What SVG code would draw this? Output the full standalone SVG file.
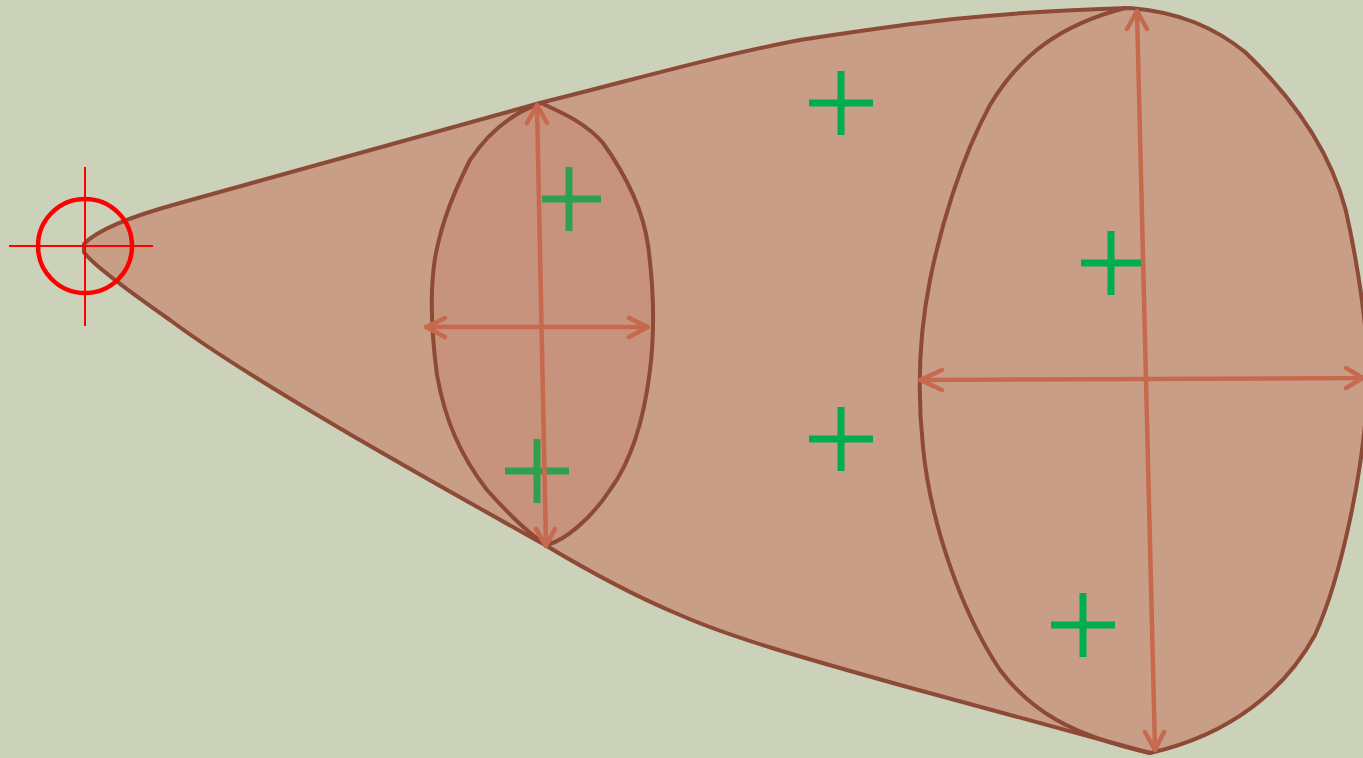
<svg xmlns="http://www.w3.org/2000/svg" width="1363" height="758" viewBox="0 0 1363 758">
<style>
.outline{stroke:#8D4A37;stroke-width:4;stroke-linejoin:round;stroke-linecap:round}
.arrow{fill:none;stroke:#C6694F;stroke-width:4.5;stroke-linecap:round;stroke-linejoin:round}
.plus{fill:none;stroke:#00AD4F;stroke-width:7}
.plus2{fill:none;stroke:#2F9F50;stroke-width:7}
.red{fill:none;stroke:#FF0000}
</style>
<rect width="1363" height="758" fill="#CCD2BA"/>
<g id="cone">
<path class="outline" fill="#C89F86" d="M 84,244 C 95,232 125,218 180,203 L 540,103 C 640,78 720,55 800,40 C 900,25 980,12 1130,8 C 1180,12 1215,28 1245,52 C 1295,100 1338,160 1350,230 C 1362,290 1368,340 1368,380 C 1365,470 1340,580 1315,635 C 1285,690 1230,735 1150,753 L 900,685 C 800,657 730,637 680,615 C 620,590 570,560 545,545 C 420,475 250,380 170,320 C 120,285 90,262 84,252 Z"/>
</g>
<g id="big-section">
<path class="outline" fill="none" d="M 1125,8 C 1060,25 1020,55 990,105 C 960,160 940,230 930,280 C 918,340 918,400 923,447 C 930,520 960,610 1000,670 C 1030,710 1070,735 1150,753"/>
</g>
<g id="small-section">
<path class="outline" fill="#C8937C" d="M 541,103 C 560,112 585,122 603,143 C 628,178 643,210 648,245 C 654,290 655,330 650,370 C 644,420 632,460 610,490 C 590,520 565,540 547,545 C 530,535 505,510 487,490 C 460,455 445,420 437,375 C 431,330 430,290 435,258 C 442,220 455,190 470,160 C 490,130 515,112 541,103 Z"/>
</g>
<g id="markers">
<path class="plus" d="M809,103H873M841,71V135"/>
<path class="plus" d="M809,439H873M841,407V471"/>
<path class="plus" d="M1081,263H1141M1111,231V295"/>
<path class="plus" d="M1051,625H1115M1083,593V657"/>
<path class="plus2" d="M542,199H601M569,167V231"/>
<path class="plus2" d="M505,471H569M537,439V503"/>
</g>
<g id="connectors">
<path class="arrow" d="M537,106 L546,545 M527,123 L537,105 L547,123 M536,529 L546,546 L555,529"/>
<path class="arrow" d="M426,327 L648,327 M445,318 L426,327 L445,337 M629,318 L648,327 L629,337"/>
<path class="arrow" d="M1137,11 L1155,749 M1127,29 L1137,11 L1147,29 M1145,732 L1155,750 L1164,732"/>
<path class="arrow" d="M920,380 L1363,378 M942,370 L920,380 L942,390 M1346,368 L1363,378 L1346,388"/>
</g>
<g id="origin">
<circle class="red" cx="85" cy="246" r="47" stroke-width="4.5"/>
<path class="red" stroke-width="2" d="M9,246H153M85,167V326"/>
</g>
</svg>
